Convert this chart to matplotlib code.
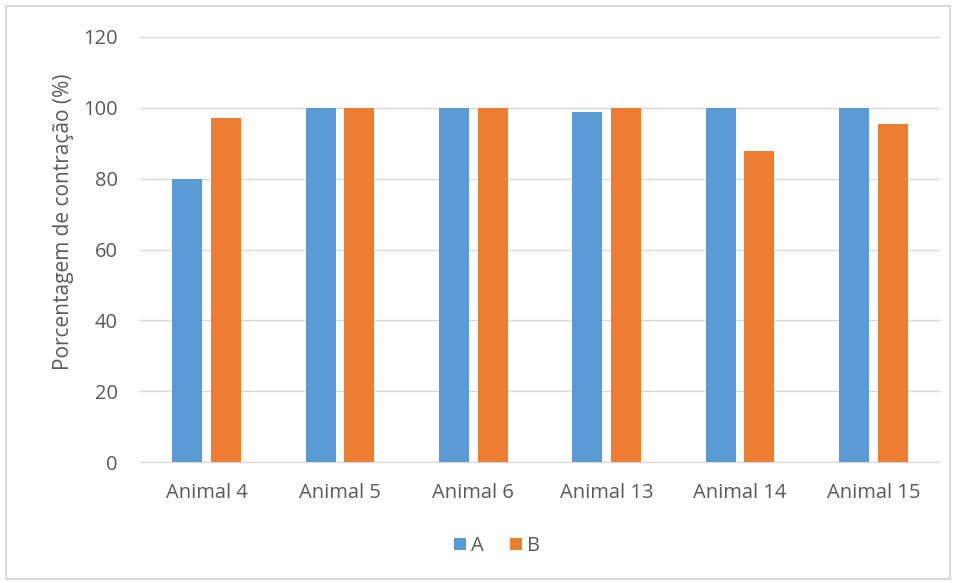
import matplotlib.pyplot as plt
import matplotlib.patches as mpatches
import numpy as np

animais = ["Animal 4", "Animal 5", "Animal 6", "Animal 13", "Animal 14", "Animal 15"]
serie_a = [80, 100, 100, 98.7, 100, 100]
serie_b = [97.2, 100, 100, 100, 87.8, 95.4]

azul    = "#5B9BD5"
laranja = "#ED7D31"
cinza   = "#595959"

plt.rcParams['font.family'] = ['Open Sans', 'DejaVu Sans']

fig = plt.figure(figsize=(9.56, 5.83), dpi=100)
ax = fig.add_axes([140/956, 1 - 462/583, 800/956, 425/583])

x = np.arange(len(animais))
larg = 0.225
ax.bar(x - 0.146, serie_a, larg, color=azul, label="A", zorder=3)
ax.bar(x + 0.146, serie_b, larg, color=laranja, label="B", zorder=3)

ax.set_xlim(-0.5, len(animais) - 0.5)
ax.set_ylim(0, 120)
ax.set_yticks(range(0, 121, 20))
ax.set_xticks(x)
ax.set_xticklabels(animais)
ax.grid(axis='y', color="#d9d9d9", linewidth=1, zorder=0)
for lado in ['top', 'right', 'left']:
    ax.spines[lado].set_visible(False)
ax.spines['bottom'].set_color("#d9d9d9")
ax.tick_params(length=0, colors=cinza, labelsize=14.5)
ax.tick_params(axis='y', pad=16)
ax.tick_params(axis='x', pad=15)
ax.set_ylabel("Porcentagem de contração (%)", color=cinza, fontsize=15)
ax.yaxis.set_label_coords(74/956, 1 - 222/583, transform=fig.transFigure)

fig.legend(loc='center', bbox_to_anchor=(497/956, 1 - 546/583), ncol=2, frameon=False,
           fontsize=14.5, handlelength=0.6, handleheight=0.6, handletextpad=0.25,
           columnspacing=1.3, labelcolor=cinza)

# moldura cinza em volta do gráfico
fig.patches.append(mpatches.Rectangle((6/956, 4/583), 944/956, 573/583, transform=fig.transFigure,
                                      fill=False, edgecolor="#d9d9d9", linewidth=1.5))

fig.savefig("out.png", dpi=100)
